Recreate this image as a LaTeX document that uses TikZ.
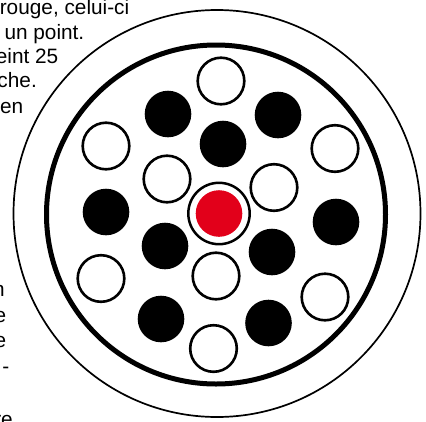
\documentclass[tikz,border=0pt]{standalone}
\usepackage{fontspec}
\setmainfont{Liberation Sans}
\definecolor{dotred}{RGB}{226,0,26}
\begin{document}
\begin{tikzpicture}[x=1pt,y=-1pt,
  txt/.style={anchor=base east,inner sep=0pt,font=\fontsize{20.8}{25}\selectfont},
  blk/.style={circle,fill=black,inner sep=0pt,minimum size=46.6pt},
  opn/.style={circle,draw=black,fill=white,line width=2.6pt,inner sep=0pt,minimum size=46.6pt},
  thinring/.style={line width=1.7pt},
  thickring/.style={line width=5pt}]
\useasboundingbox (0,0) rectangle (426,421);
\clip (0,0) rectangle (426,421);
% text fragments
\node[txt] (t1) at (129.5,14) {rouge, celui-ci};
\node[txt] (t2) at (84.5,39.5) {un point.};
\node[txt] (t3) at (58.5,63.5) {eint 25};
\node[txt] (t4) at (37,87.5) {che.};
\node[txt] (t5) at (23.5,113) {en};
\node[txt] (t6) at (5,296) {n};
\node[txt] (t7) at (6.5,322) {e};
\node[txt] (t8) at (6.5,347.5) {e};
\node[txt] (t9) at (9.5,373) {-};
\node[txt] (t10) at (13,426) {re};
% big rings
\draw[thinring] (217,213.5) circle[radius=203.5];
\draw[thickring] (216,214.5) circle[radius=169.5];
% centre
\fill[dotred] (219,213.5) circle[radius=23.3];
\draw[line width=2.5pt] (219,213.5) circle[radius=30.7];
% open circles
\node[opn] (o1) at (221,81) {};
\node[opn] (o2) at (106,146) {};
\node[opn] (o3) at (335,148.5) {};
\node[opn] (o4) at (167,179) {};
\node[opn] (o5) at (274,187.5) {};
\node[opn] (o6) at (101,278.5) {};
\node[opn] (o7) at (216,276) {};
\node[opn] (o8) at (325,297) {};
\node[opn] (o9) at (213.5,348.5) {};
% black circles
\node[blk] (b1) at (168,114) {};
\node[blk] (b2) at (278,115) {};
\node[blk] (b3) at (223,144) {};
\node[blk] (b4) at (106,212) {};
\node[blk] (b5) at (336,222) {};
\node[blk] (b6) at (165,246) {};
\node[blk] (b7) at (272,252) {};
\node[blk] (b8) at (161,319) {};
\node[blk] (b9) at (268.5,323) {};
\end{tikzpicture}
\end{document}
